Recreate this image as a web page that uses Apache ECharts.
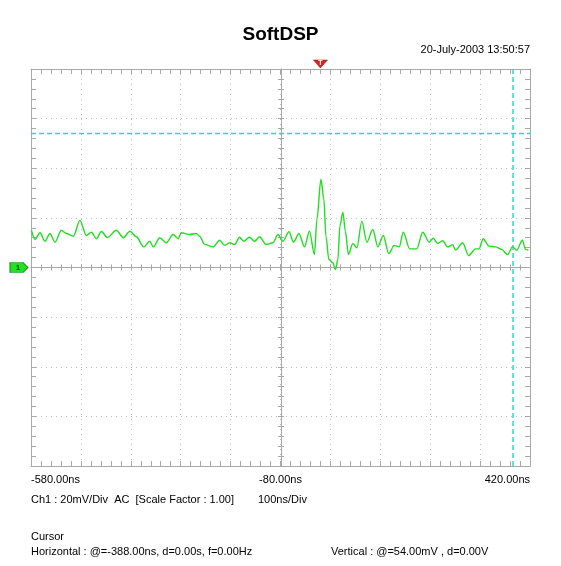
<!DOCTYPE html>
<html><head><meta charset="utf-8">
<script src="https://cdn.jsdelivr.net/npm/echarts@6/dist/echarts.min.js"></script>
<style>html,body{margin:0;padding:0;background:#fff}#c{width:561px;height:566px}</style>
</head><body><div id="c"></div>
<script>
// Time (ns) and channel-1 voltage (mV)
var times = [-579,-572,-562,-552,-542,-532,-519,-509,-495,-482,-469,-459,-449,-439,-427,-409,-395,-382,-369,-354,-342,-335,-322,-309,-295,-285,-279,-262,-249,-242,-232,-215,-202,-192,-182,-172,-162,-154,-142,-132,-122,-109,-95,-85,-75,-63,-54,-43,-32,-22,-12,-7,1,7,11,17,25,30,35,39,45,50,56,65,73,83,93,105,115,126,137,148,158,166,179,193,205,218,226,235,245,255,265,271,285,297,311,318,326,338,351,363,375,385,393,405,411,417];
var volts = [14.9,11.3,14.0,10.6,13.7,10.2,15.0,13.7,12.6,19.0,12.9,14.2,11.6,14.5,12.1,15.0,12.0,14.6,12.4,8.3,10.6,8.3,12.0,10.0,13.3,11.6,14.0,13.3,13.7,12.6,9.3,8.3,11.0,8.9,10.0,9.3,12.2,10.6,12.2,10.6,12.4,9.3,10.0,13.3,10.6,14.4,10.2,13.7,8.3,14.6,5.2,19.4,35.6,27.4,12.6,3.2,1.9,-0.8,3.2,16.7,22.3,14.6,5.2,9.7,7.9,18.7,10.2,15.3,8.3,12.9,5.6,8.9,8.3,14.2,7.5,7.5,14.2,10.2,11.8,9.7,10.8,8.3,9.2,7.0,10.0,4.8,7.5,7.5,11.6,8.6,8.3,7.3,5.2,8.3,7.0,11.0,7.3,7.0];
var xLabels = [-580, -80, 420];
var cursorTime = 386;   // vertical cursor (ns)
var cursorVolt = 54;    // horizontal cursor (mV)
var triggerTime = 0;
var tMin = -580, tMax = 420, vMin = -80, vMax = 80;

var data = times.map(function (t, i) { return [t, volts[i]]; });

var FONT = "'Liberation Sans',Arial,sans-serif";
var GRID = '#a8a8a8';
var CYAN = '#2ad8dc';
var base = { type: 'value', min: tMin, max: tMax, interval: 100, gridIndex: 0 };
function xa(extra) { return Object.assign({}, base, extra); }
var ybase = { type: 'value', min: vMin, max: vMax, interval: 20 };
function ya(extra) { return Object.assign({}, ybase, extra); }
var noLbl = { show: false };
var dotted = { show: true, lineStyle: { color: '#bdbdbd', type: [1, 4], width: 1 } };

function cursorSeries(pts) {
  return { type: 'line', xAxisIndex: 0, yAxisIndex: 0, data: pts, showSymbol: false, silent: true,
    z: 3, lineStyle: { color: CYAN, type: [5, 3], width: 1.5 }, itemStyle: { color: CYAN } };
}

var chart = echarts.init(document.getElementById('c'), null, { renderer: 'canvas' });
chart.setOption({
  animation: false,
  backgroundColor: '#fff',
  title: { text: 'SoftDSP', left: 'center', top: 20,
    textStyle: { fontFamily: FONT, fontSize: 19, fontWeight: 'bold', color: '#000' } },
  grid: { left: 31, right: 31, top: 69, bottom: 100, show: false },
  xAxis: [
    xa({ position: 'bottom', axisLine: { onZero: false, lineStyle: { color: GRID } },
      axisTick: { inside: true, length: 5, lineStyle: { color: GRID } },
      minorTick: { show: true, splitNumber: 5, length: 5, lineStyle: { color: GRID } },
      splitLine: dotted,
      axisLabel: { show: true, margin: 8, color: '#000', fontFamily: FONT, fontSize: 11,
        alignMinLabel: 'left', alignMaxLabel: 'right',
        formatter: function (v) { return xLabels.indexOf(v) >= 0 ? v.toFixed(2) + 'ns' : ''; } } }),
    xa({ position: 'top', axisLine: { onZero: false, lineStyle: { color: GRID } },
      axisTick: { inside: true, length: 5, lineStyle: { color: GRID } },
      minorTick: { show: true, splitNumber: 5, length: 5, lineStyle: { color: GRID } },
      splitLine: { show: false }, axisLabel: noLbl }),
    xa({ position: 'bottom', axisLine: { onZero: true, onZeroAxisIndex: 0, lineStyle: { color: GRID } },
      axisTick: { inside: true, length: 3, lineStyle: { color: GRID } },
      minorTick: { show: true, splitNumber: 5, length: 3, lineStyle: { color: GRID } },
      splitLine: { show: false }, axisLabel: noLbl }),
    xa({ position: 'bottom', axisLine: { onZero: true, onZeroAxisIndex: 0, lineStyle: { color: GRID } },
      axisTick: { inside: false, length: 3, lineStyle: { color: GRID } },
      minorTick: { show: true, splitNumber: 5, length: 3, lineStyle: { color: GRID } },
      splitLine: { show: false }, axisLabel: noLbl })
  ],
  yAxis: [
    ya({ position: 'left', axisLine: { show: true, onZero: false, lineStyle: { color: GRID } },
      axisTick: { show: true, inside: true, length: 5, lineStyle: { color: GRID } },
      minorTick: { show: true, splitNumber: 5, length: 5, lineStyle: { color: GRID } },
      splitLine: dotted, axisLabel: noLbl }),
    ya({ position: 'right', axisLine: { show: true, onZero: false, lineStyle: { color: GRID } },
      axisTick: { show: true, inside: true, length: 5, lineStyle: { color: GRID } },
      minorTick: { show: true, splitNumber: 5, length: 5, lineStyle: { color: GRID } },
      splitLine: { show: false }, axisLabel: noLbl }),
    ya({ position: 'left', offset: -250, axisLine: { show: true, onZero: false, lineStyle: { color: GRID } },
      axisTick: { show: true, inside: true, length: 3, lineStyle: { color: GRID } },
      minorTick: { show: true, splitNumber: 5, length: 3, lineStyle: { color: GRID } },
      splitLine: { show: false }, axisLabel: noLbl }),
    ya({ position: 'left', offset: -250, axisLine: { show: true, onZero: false, lineStyle: { color: GRID } },
      axisTick: { show: true, inside: false, length: 3, lineStyle: { color: GRID } },
      minorTick: { show: true, splitNumber: 5, length: 3, lineStyle: { color: GRID } },
      splitLine: { show: false }, axisLabel: noLbl })
  ],
  series: [
    cursorSeries([[cursorTime, vMin], [cursorTime, vMax]]),
    cursorSeries([[tMin, cursorVolt], [tMax, cursorVolt]]),
    {
    type: 'line', xAxisIndex: 0, yAxisIndex: 0, data: data, z: 4,
    showSymbol: false, smooth: 0.3, smoothMonotone: 'x', clip: false,
    lineStyle: { color: '#22dd22', width: 1.4 }, itemStyle: { color: '#22dd22' },
    markPoint: { silent: true, data: [
      { coord: [triggerTime, 80], symbol: 'triangle', symbolRotate: 180, symbolSize: [14, 8], symbolOffset: [0, -5],
        itemStyle: { color: '#dd2020', borderColor: '#901010', borderWidth: 0.5 },
        label: { show: true, formatter: 'T', color: '#fff', fontSize: 7, fontWeight: 'bold', offset: [0, -1] } },
      { coord: [-580, 0], symbol: 'path://M0,0 L13,0 L18,5 L13,10 L0,10 Z', symbolSize: [18, 10], symbolOffset: [-12, 0],
        symbolKeepAspect: false,
        itemStyle: { color: '#22e022', borderColor: '#109010', borderWidth: 0.8 },
        label: { show: true, formatter: '1', color: '#000', fontSize: 8, offset: [-1, 0] } }
    ] }
  }],
  graphic: [
    { type: 'text', right: 31, top: 44, style: { text: '20-July-2003 13:50:57', font: '11px ' + FONT, fill: '#000' } },
    { type: 'text', left: 31, top: 494, style: { text: 'Ch1 : 20mV/Div  AC  [Scale Factor : 1.00]', font: '11px ' + FONT, fill: '#000' } },
    { type: 'text', left: 258, top: 494, style: { text: '100ns/Div', font: '11px ' + FONT, fill: '#000' } },
    { type: 'text', left: 31, top: 531, style: { text: 'Cursor', font: '11px ' + FONT, fill: '#000' } },
    { type: 'text', left: 31, top: 546, style: { text: 'Horizontal : @=-388.00ns, d=0.00s, f=0.00Hz', font: '11px ' + FONT, fill: '#000' } },
    { type: 'text', left: 331, top: 546, style: { text: 'Vertical : @=54.00mV , d=0.00V', font: '11px ' + FONT, fill: '#000' } }
  ]
});
</script></body></html>
